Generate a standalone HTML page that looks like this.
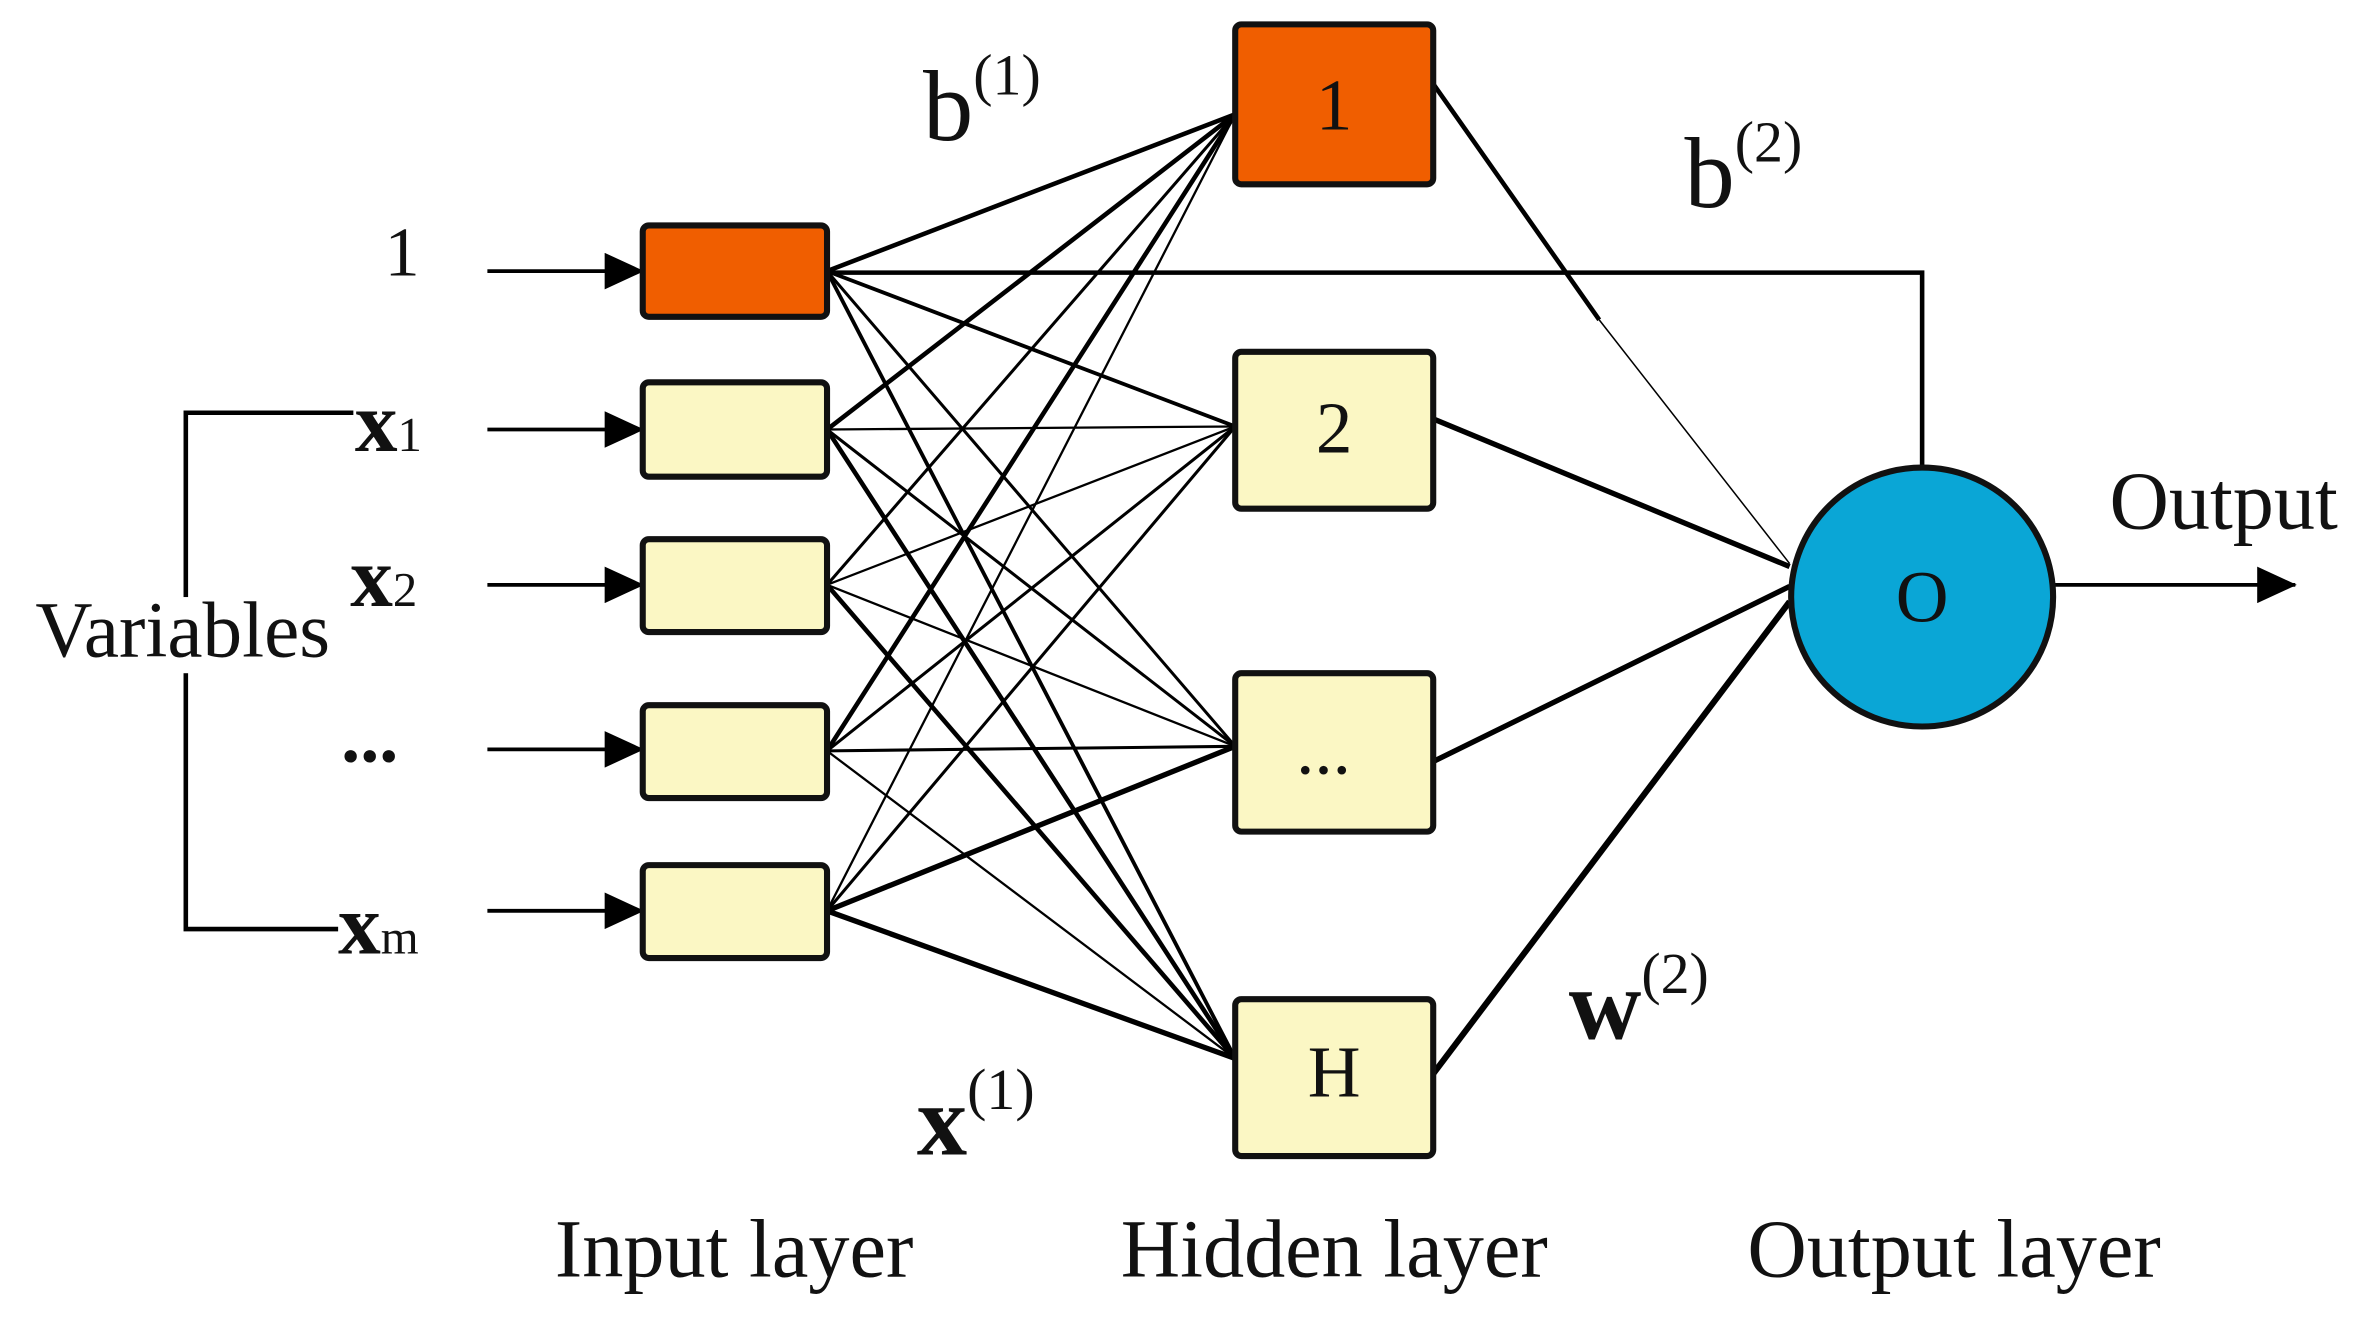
<!DOCTYPE html>
<html><head><meta charset="utf-8"><style>
html,body{margin:0;padding:0;background:#fff;}
svg{display:block;}
text{font-family:"Liberation Serif",serif;fill:#111;}
</style></head><body>
<svg width="2376" height="1319" viewBox="0 0 1560 866" preserveAspectRatio="none" xmlns="http://www.w3.org/2000/svg">
<defs>
<marker id="ah2" markerWidth="26" markerHeight="24" refX="25" refY="12" orient="auto" markerUnits="userSpaceOnUse"><path d="M0,0 L26,12 L0,24 z" fill="#000"/></marker></defs>
<g stroke="#000" fill="none">
<g id="conn">
<line x1="543" y1="178" x2="811" y2="75" stroke-width="3"/><line x1="543" y1="178" x2="811" y2="280" stroke-width="2.5"/><line x1="543" y1="178" x2="811" y2="490" stroke-width="2"/><line x1="543" y1="178" x2="811" y2="695" stroke-width="2.5"/>
<line x1="543" y1="282" x2="811" y2="75" stroke-width="3"/><line x1="543" y1="282" x2="811" y2="280" stroke-width="1.5"/><line x1="543" y1="282" x2="811" y2="490" stroke-width="2"/><line x1="543" y1="282" x2="811" y2="695" stroke-width="3"/>
<line x1="543" y1="384" x2="811" y2="75" stroke-width="2"/><line x1="543" y1="384" x2="811" y2="280" stroke-width="1.5"/><line x1="543" y1="384" x2="811" y2="490" stroke-width="1.5"/><line x1="543" y1="384" x2="811" y2="695" stroke-width="3"/>
<line x1="543" y1="493" x2="811" y2="75" stroke-width="3"/><line x1="543" y1="493" x2="811" y2="280" stroke-width="2"/><line x1="543" y1="493" x2="811" y2="490" stroke-width="2"/><line x1="543" y1="493" x2="811" y2="695" stroke-width="1.5"/>
<line x1="543" y1="598" x2="811" y2="75" stroke-width="1.5"/><line x1="543" y1="598" x2="811" y2="280" stroke-width="2"/><line x1="543" y1="598" x2="811" y2="490" stroke-width="3.5"/><line x1="543" y1="598" x2="811" y2="695" stroke-width="3.5"/>
</g>
<line x1="941" y1="55" x2="1050" y2="210" stroke-width="3"/><line x1="1050" y1="210" x2="1175" y2="370" stroke-width="1"/>
<line x1="941" y1="275" x2="1175" y2="372" stroke-width="3.5"/>
<line x1="941" y1="500" x2="1175" y2="385" stroke-width="3.5"/>
<line x1="941" y1="705" x2="1175" y2="395" stroke-width="4"/>
<polyline points="543,179 1262,179 1262,308" stroke-width="3"/>
<line x1="320" y1="178" x2="422" y2="178" stroke-width="2.5" marker-end="url(#ah2)"/>
<line x1="320" y1="282" x2="422" y2="282" stroke-width="2.5" marker-end="url(#ah2)"/>
<line x1="320" y1="384" x2="422" y2="384" stroke-width="2.5" marker-end="url(#ah2)"/>
<line x1="320" y1="492" x2="422" y2="492" stroke-width="2.5" marker-end="url(#ah2)"/>
<line x1="320" y1="598" x2="422" y2="598" stroke-width="2.5" marker-end="url(#ah2)"/>
<line x1="1348" y1="384" x2="1507" y2="384" stroke-width="2.5" marker-end="url(#ah2)"/>
<polyline points="232,271 122,271 122,610 222,610" stroke-width="3"/>
</g>
<rect x="18" y="392" width="204" height="50" fill="#fff"/>
<g stroke="#111" stroke-width="4">
<rect x="422" y="148" width="121" height="60" rx="4" fill="#f05e00"/>
<rect x="422" y="251" width="121" height="62" rx="4" fill="#fbf7c4"/>
<rect x="422" y="354" width="121" height="61" rx="4" fill="#fbf7c4"/>
<rect x="422" y="463" width="121" height="61" rx="4" fill="#fbf7c4"/>
<rect x="422" y="568" width="121" height="61" rx="4" fill="#fbf7c4"/>
<rect x="811" y="16" width="130" height="105" rx="4" fill="#f05e00"/>
<rect x="811" y="231" width="130" height="103" rx="4" fill="#fbf7c4"/>
<rect x="811" y="442" width="130" height="104" rx="4" fill="#fbf7c4"/>
<rect x="811" y="656" width="130" height="103" rx="4" fill="#fbf7c4"/>
<ellipse cx="1262" cy="392" rx="86" ry="85" fill="#0aa6d6"/>
</g>
<text x="876" y="85" font-size="48" text-anchor="middle">1</text>
<text x="876" y="297" font-size="48" text-anchor="middle">2</text>
<text x="869" y="508" font-size="48" text-anchor="middle">...</text>
<text x="876" y="720" font-size="48" text-anchor="middle">H</text>
<text x="1262" y="408" font-size="48" text-anchor="middle">O</text>
<text x="264" y="181" font-size="46" text-anchor="middle">1</text>
<text x="233" y="296" font-size="56" font-weight="bold">x<tspan font-size="32" font-weight="normal">1</tspan></text>
<text x="230" y="398" font-size="56" font-weight="bold">x<tspan font-size="32" font-weight="normal">2</tspan></text>
<text x="224" y="500" font-size="50" font-weight="bold">...</text>
<text x="222" y="626" font-size="56" font-weight="bold">x<tspan font-size="32" font-weight="normal">m</tspan></text>
<text x="120" y="431" font-size="52" text-anchor="middle">Variables</text>
<text x="606" y="92" font-size="66">b<tspan font-size="38" dy="-30">(1)</tspan></text>
<text x="1106" y="136" font-size="66">b<tspan font-size="38" dy="-30">(2)</tspan></text>
<text x="1030" y="682" font-size="66" font-weight="bold">w<tspan font-size="38" font-weight="normal" dy="-30">(2)</tspan></text>
<text x="602" y="758" font-size="66" font-weight="bold">x<tspan font-size="38" font-weight="normal" dy="-30">(1)</tspan></text>
<text x="1385" y="347" font-size="54">Output</text>
<text x="482" y="838" font-size="54" text-anchor="middle">Input layer</text>
<text x="876" y="838" font-size="54" text-anchor="middle">Hidden layer</text>
<text x="1283" y="838" font-size="54" text-anchor="middle">Output layer</text>
</svg>
</body></html>
